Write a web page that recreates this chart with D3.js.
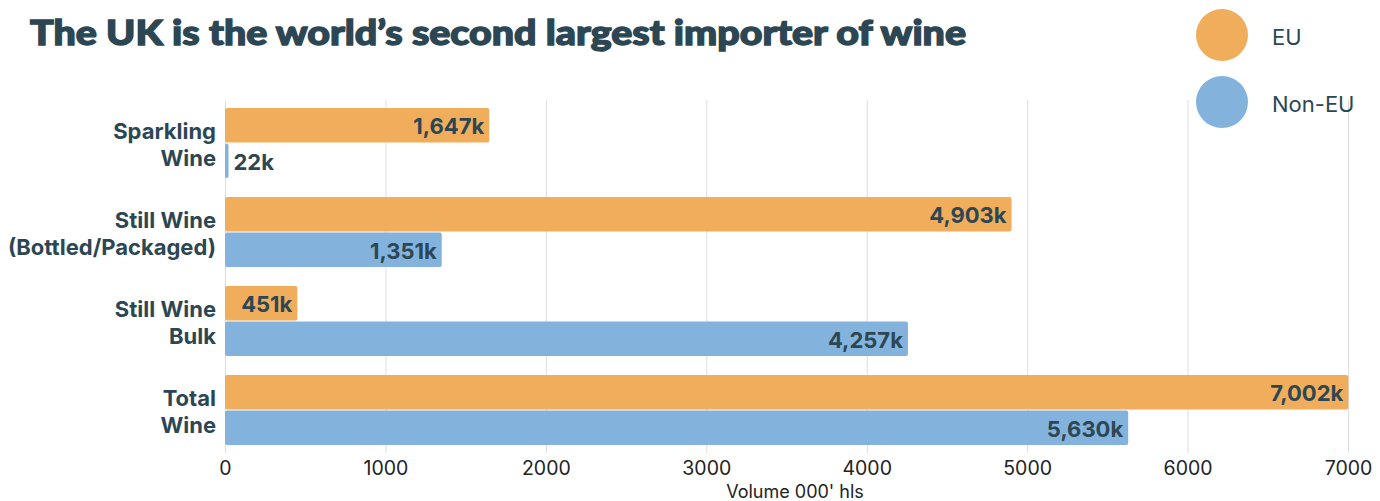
<!DOCTYPE html>
<html><head><meta charset="utf-8">
<script src="https://cdn.jsdelivr.net/npm/d3@7"></script>
<style>body{margin:0;background:#fff}svg{display:block}</style>
</head><body>
<svg id="c" width="1380" height="501"></svg>
<script>
const categories = [["Sparkling","Wine"],["Still Wine","(Bottled/Packaged)"],["Still Wine","Bulk"],["Total","Wine"]];
const catKeys = ["Sparkling Wine","Still Wine (Bottled/Packaged)","Still Wine Bulk","Total Wine"];
const series = ["EU","Non-EU"];
const euValues = [1647, 4903, 451, 7002];
const nonEuValues = [22, 1351, 4257, 5630];
const xTicks = [0,1000,2000,3000,4000,5000,6000,7000];
const colors = {"EU":"#f0ad5c","Non-EU":"#83b3dd"};
const dark = "#2c4753";

const svg = d3.select("#c");
const x = d3.scaleLinear().domain([0,7000]).range([225,1348]);
const y = d3.scaleBand().domain(catKeys).range([99,454]).paddingInner(0.2135).paddingOuter(0.1);
const ys = d3.scaleBand().domain(series).range([0,y.bandwidth()]).paddingInner(0.03);

// grid
svg.append("g").selectAll("line").data(xTicks).join("line")
  .attr("x1",d=>x(d)+0.5).attr("x2",d=>x(d)+0.5).attr("y1",100).attr("y2",453)
  .attr("stroke","#dedede").attr("stroke-width",1);

// axis
const ax = svg.append("g").attr("transform","translate(0,453)").call(d3.axisBottom(x).tickValues(xTicks).tickSize(0).tickPadding(8).tickFormat(d3.format("d")));
ax.select(".domain").remove();
ax.selectAll("text").attr("font-family","Inter, sans-serif").attr("font-size",19.5).attr("fill","#222");

svg.append("text").attr("x",795).attr("y",492).attr("dy","0.36em").attr("text-anchor","middle")
  .attr("font-family","Inter, sans-serif").attr("font-size",18).attr("fill","#222").text("Volume 000' hls");

const rows = [];
catKeys.forEach((c,i)=>{ rows.push({cat:c,s:"EU",v:euValues[i]}); rows.push({cat:c,s:"Non-EU",v:nonEuValues[i]}); });

const g = svg.append("g");
g.selectAll("rect").data(rows).join("rect")
  .attr("x",x(0)).attr("y",d=>y(d.cat)+ys(d.s)).attr("width",d=>x(d.v)-x(0)).attr("height",ys.bandwidth())
  .attr("rx",2).attr("fill",d=>colors[d.s]);

const fmt = d3.format(",");
g.selectAll("text.val").data(rows).join("text").attr("class","val")
  .attr("font-family","Inter, sans-serif").attr("font-weight",700).attr("font-size",22).attr("fill",dark)
  .attr("y",d=>y(d.cat)+ys(d.s)+ys.bandwidth()/2+1).attr("dy","0.36em")
  .text(d=>fmt(d.v)+"k")
  .each(function(d){
    const w = this.getComputedTextLength();
    const bw = x(d.v)-x(0);
    if (bw > w + 12) d3.select(this).attr("x",x(d.v)-5).attr("text-anchor","end");
    else d3.select(this).attr("x",x(d.v)+5).attr("text-anchor","start");
  });

// y labels
catKeys.forEach((c,i)=>{
  const cy = y(c)+y.bandwidth()/2;
  const t = svg.append("text").attr("text-anchor","end").attr("font-family","Inter, sans-serif")
    .attr("font-weight",700).attr("font-size",22).attr("fill",dark);
  categories[i].forEach((line,j)=>{
    t.append("tspan").attr("x",216).attr("y",cy + (j===0?-12:15)).attr("dy","0.36em").text(line);
  });
});

// title
svg.append("text").attr("x",30).attr("y",45).attr("font-family","Lato, sans-serif").attr("font-weight",900)
  .attr("font-size",35).attr("fill",dark).attr("stroke",dark).attr("stroke-width",1.4)
  .attr("textLength",936).attr("lengthAdjust","spacingAndGlyphs")
  .text("The UK is the world’s second largest importer of wine");

// legend
const lg = svg.append("g");
series.forEach((s,i)=>{
  const cy = 35 + i*67;
  lg.append("circle").attr("cx",1222).attr("cy",cy).attr("r",26).attr("fill",colors[s]);
  lg.append("text").attr("x",1272).attr("y",cy+2).attr("dy","0.36em").attr("font-family","Inter, sans-serif")
    .attr("font-size",22).attr("fill",dark).text(s);
});
</script>
</body></html>
